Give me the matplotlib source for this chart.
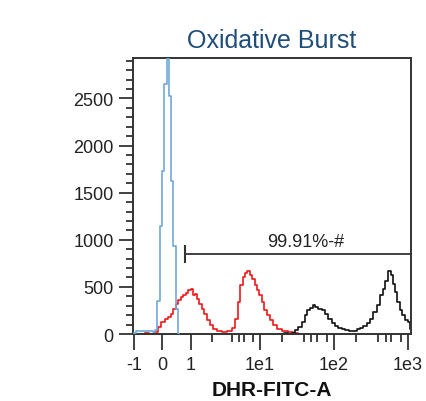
import numpy as np
import matplotlib
matplotlib.use("Agg")
import matplotlib.pyplot as plt

# ---------------- data ----------------
blue_x = [-1.028, -0.958, -0.888, -0.782, -0.677, -0.572, -0.467, -0.361, -0.274,
          -0.211, -0.133, -0.046, 0.042, 0.112, 0.189, 0.281, 0.358, 0.428, 0.516, 0.586]
blue_y = [0, 15, 28, 28, 28, 28, 28, 28, 25,
          40, 355, 1150, 1730, 2650, 3500, 2527, 1627, 938, 268, 0]

red_x = [-0.607, -0.502, -0.396, -0.291, -0.204, -0.091, 0.025, 0.140, 0.260, 0.340,
         0.435, 0.526, 0.611, 0.691, 0.786, 0.877, 0.961, 1.041, 1.113, 1.178,
         1.272, 1.392, 1.502, 1.623, 1.775, 1.982, 2.220, 2.624, 3.099, 3.700,
         4.130, 4.626, 5.046, 5.466, 5.902, 6.459, 6.813, 7.457, 8.052, 8.809,
         9.512, 10.28, 11.15, 12.02, 13.03, 14.48, 16.05, 18.34, 21.90, 25.59,
         29.90, 34.93]
red_y = [8, 10, 5, 0, 20, 77, 130, 162, 180, 215,
         268, 320, 356, 390, 416, 434, 462, 480, 416, 427,
         374, 320, 268, 215, 144, 91, 56, 28, 20, 28,
         60, 162, 339, 515, 604, 645, 673, 621, 586, 522,
         462, 409, 339, 250, 197, 144, 98, 56, 28, 21,
         14, 0]

black_x = [17.62, 19.95, 22.60, 25.59, 28.36, 31.52, 34.93, 38.70, 42.11, 45.23,
           50.28, 54.01, 58.73, 65.10, 72.13, 80.20, 88.84, 98.45, 109.4, 121.3,
           134.4, 149.4, 174.6, 193.4, 214.3, 238.3, 264.0, 292.6, 325.3, 360.5,
           399.4, 444.0, 476.9, 518.6, 574.8, 605.9, 651.0, 692.6, 743.9, 801.9,
           869.6, 966.3, 1048.0, 1105.0]
black_y = [5, 0, 8, 5, 14, 38, 74, 127, 197, 250,
           275, 310, 286, 268, 250, 215, 162, 120, 85, 64,
           56, 38, 28, 28, 56, 64, 85, 120, 162, 233,
           310, 409, 480, 567, 673, 630, 533, 445, 339, 250,
           197, 144, 127, 56]

x_major = [-1, 0, 1, 10, 100, 1000]
x_major_labels = ["-1", "0", "1", "1e1", "1e2", "1e3"]
x_minor = [2, 4, 5, 6, 8, 20, 40, 50, 60, 80, 200, 400, 500, 600, 800]
y_major = [0, 500, 1000, 1500, 2000, 2500]
y_minor = [v for v in range(100, 3000, 100) if v % 500]

gate_lo, gate_hi, gate_level = 0.796, 1105.0, 850
gate_text = "99.91%-#"
gate_text_x, gate_text_y = 41.5, 930

title = "Oxidative Burst"
xlabel = "DHR-FITC-A"

# ---------------- biexponential-like display scale ----------------
def fwd(x):
    x = np.asarray(x, dtype=float)
    lin = x * 28.5
    l1 = 28.5 + 69.0 * np.log10(np.clip(x, 1.0, None))
    l2 = 97.5 + 74.0 * (np.log10(np.clip(x, 10.0, None)) - 1.0)
    return np.where(x <= 1, lin, np.where(x <= 10, l1, l2))

def inv(p):
    p = np.asarray(p, dtype=float)
    lin = p / 28.5
    l1 = 10 ** ((np.clip(p, 28.5, 97.5) - 28.5) / 69.0)
    l2 = 10 ** (1.0 + (np.clip(p, 97.5, 400) - 97.5) / 74.0)
    return np.where(p <= 28.5, lin, np.where(p <= 97.5, l1, l2))

plt.rcParams["font.family"] = ["Liberation Sans", "DejaVu Sans"]

fig = plt.figure(figsize=(4.26, 4.02), dpi=100)
ax = fig.add_axes([133 / 426, 1 - 335 / 402, (411 - 133) / 426, (335 - 58.5) / 402])
ax.set_xscale("function", functions=(fwd, inv))

lw = 1.2
ax.plot(blue_x, blue_y, drawstyle="steps-mid", color="#6fa8dc", lw=lw, zorder=3)
ax.plot(red_x, red_y, drawstyle="steps-mid", color="#f01818", lw=lw, zorder=2)
ax.plot(black_x, black_y, drawstyle="steps-mid", color="#111111", lw=lw, zorder=2)

ax.set_xlim(-1.025, 1105)
ax.set_ylim(0, 2935)

# gate
gc = "#333333"
ax.plot([gate_lo, gate_hi], [gate_level, gate_level], color=gc, lw=1.3, clip_on=False, zorder=4)
ax.plot([gate_lo, gate_lo], [gate_level - 85, gate_level + 85], color=gc, lw=1.5, zorder=4)
ax.text(gate_text_x, gate_text_y, gate_text, ha="center", va="baseline",
        fontsize=13, color="#222222")

ax.set_xticks(x_major)
ax.set_xticklabels(x_major_labels)
ax.set_xticks(x_minor, minor=True)
ax.set_yticks(y_major)
ax.set_yticks(y_minor, minor=True)

tc = "#333333"
for s in ax.spines.values():
    s.set_color(tc)
    s.set_linewidth(1.4)
ax.tick_params(axis="both", which="both", direction="out", color=tc, width=1.3,
               labelcolor="#222222", labelsize=13)
ax.tick_params(axis="x", which="major", length=11.5, pad=4)
ax.tick_params(axis="x", which="minor", length=6)
ax.tick_params(axis="y", which="major", length=10, pad=4)
ax.tick_params(axis="y", which="minor", length=5)

ax.set_title(title, fontsize=18, color="#1f4e79", pad=7.3)
ax.set_xlabel(xlabel, fontsize=15, fontweight="bold", color="#111111")
ax.xaxis.set_label_coords(0.5, -0.168)

fig.savefig("out.png", dpi=100)
